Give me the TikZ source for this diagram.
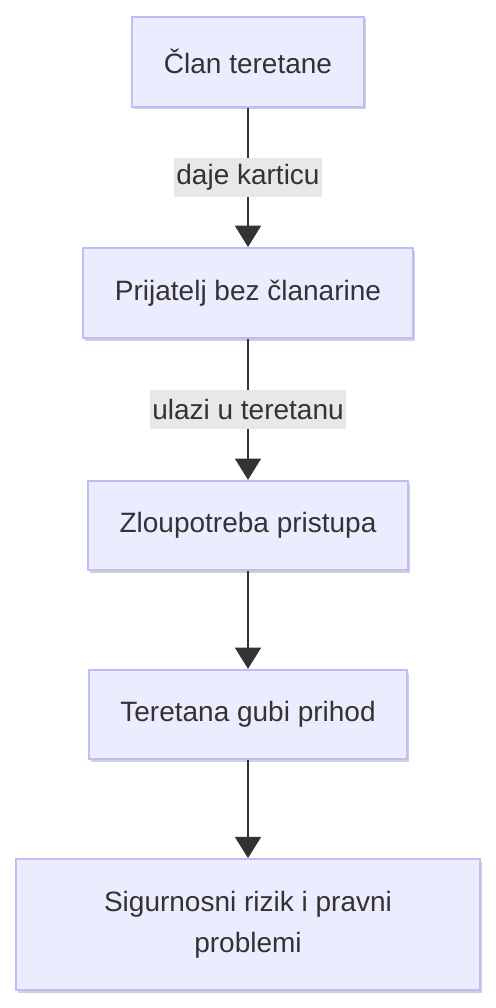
\documentclass[tikz,border=0pt]{standalone}
\usepackage{fontspec}
\setmainfont{Liberation Sans}
\usetikzlibrary{arrows.meta,shadows}

\definecolor{BoxFill}{HTML}{ECECFF}
\definecolor{BoxLine}{HTML}{BDBDF7}
\definecolor{InkGray}{HTML}{333333}
\definecolor{LabelFill}{HTML}{E8E8E8}

\begin{document}
\begin{tikzpicture}[x=0.75pt, y=-0.75pt,
    stepbox/.style={draw=BoxLine, fill=BoxFill, line width=1.5pt, text=InkGray,
        align=center, inner sep=0pt, font=\fontsize{21}{30.5}\selectfont,
        drop shadow={shadow xshift=1.5pt, shadow yshift=-2pt, opacity=0.18, fill=black}},
    flowlabel/.style={fill=LabelFill, text=InkGray, inner xsep=1.5pt, inner ysep=0pt,
        minimum height=29pt, font=\fontsize{21}{24}\selectfont},
    flow/.style={draw=InkGray, line width=1.5pt, -{Triangle[width=19.5pt, length=16pt]}}
]

\useasboundingbox (0,0) rectangle (496,1008);

% _____ Boxes
\def\MidX{248}

\node[stepbox, minimum width=174pt, minimum height=67.5pt] (clan) at (\MidX, 61.5) {Član teretane};
\node[stepbox, minimum width=247.5pt, minimum height=67.5pt] (prijatelj) at (\MidX, 293) {Prijatelj bez članarine};
\node[stepbox, minimum width=240pt, minimum height=67pt] (zloupotreba) at (\MidX, 525.5) {Zloupotreba pristupa};
\node[stepbox, minimum width=238.5pt, minimum height=67pt] (gubitak) at (\MidX, 714.5) {Teretana gubi prihod};
\node[stepbox, minimum width=348.5pt, minimum height=98pt] (rizik) at (\MidX, 924.5) {Sigurnosni rizik i pravni\\problemi};

% _____ Connectors
\draw[flow] (clan) -- (prijatelj) node[flowlabel, pos=0.5] {daje karticu};
\draw[flow] (prijatelj) -- (zloupotreba) node[flowlabel, pos=0.5] {ulazi u teretanu};
\draw[flow] (zloupotreba) -- (gubitak);
\draw[flow] (gubitak) -- (rizik);

\end{tikzpicture}
\end{document}
